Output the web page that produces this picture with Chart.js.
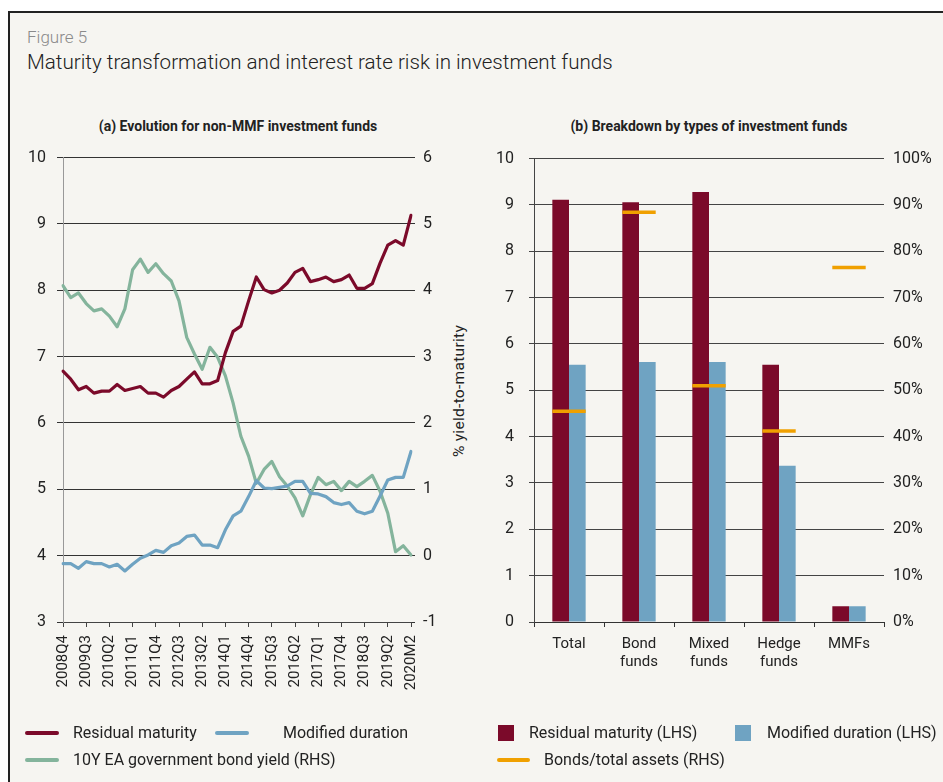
<!DOCTYPE html>
<html>
<head>
<meta charset="utf-8">
<script src="https://cdn.jsdelivr.net/npm/chart.js@4.4.1/dist/chart.umd.min.js"></script>
<style>
  body { margin: 0; width: 943px; height: 782px; overflow: hidden; background: #fff; position: relative; font-family: Roboto, sans-serif; color: #222; }
  #frame { position: absolute; left: 8px; top: 11px; width: 1000px; height: 900px; background: #f6f5f1; border-left: 2px solid #222; border-top: 2px solid #222; }
  .abs { position: absolute; white-space: nowrap; }
  #fig-no { left: 27px; top: 27px; font-size: 17px; color: #8a8a8a; font-weight: 300; }
  #fig-title { left: 27px; top: 50px; font-size: 20.6px; color: #222; font-weight: 300; }
  .sub { top: 118px; font-size: 14px; font-weight: 700; transform: translateX(-50%); }
  #rhs-title { left: 459px; top: 391px; font-size: 15.5px; letter-spacing: 0.3px; transform: translate(-50%, -50%) rotate(-90deg); }
  canvas { position: absolute; }
  .leg { font-size: 16px; line-height: 18px; }
  .sw-line { position: absolute; height: 4px; border-radius: 2px; }
  .sw-box { position: absolute; width: 16px; height: 16px; }
</style>
</head>
<body>
<div id="frame"></div>
<div class="abs" id="fig-no">Figure 5</div>
<div class="abs" id="fig-title">Maturity transformation and interest rate risk in investment funds</div>
<div class="abs sub" style="left:238px">(a) Evolution for non-MMF investment funds</div>
<div class="abs sub" style="left:709px">(b) Breakdown by types of investment funds</div>
<div class="abs" id="rhs-title">% yield-to-maturity</div>

<canvas id="lines" width="471" height="645" style="left:0;top:137px"></canvas>
<canvas id="bars" width="472" height="648" style="left:471px;top:134px"></canvas>

<!-- legends -->
<div class="sw-line" style="left:25px;top:731px;width:34px;background:#7b0a2a"></div>
<div class="abs leg" style="left:73px;top:724px">Residual maturity</div>
<div class="sw-line" style="left:215px;top:731px;width:34px;background:#6fa3c2"></div>
<div class="abs leg" style="left:283px;top:724px">Modified duration</div>
<div class="sw-line" style="left:25px;top:758px;width:34px;background:#84b49c"></div>
<div class="abs leg" style="left:73px;top:751px">10Y EA government bond yield (RHS)</div>

<div class="sw-box" style="left:498px;top:725px;background:#7b0a2a"></div>
<div class="abs leg" style="left:529px;top:724px">Residual maturity (LHS)</div>
<div class="sw-box" style="left:735px;top:725px;background:#6fa3c2"></div>
<div class="abs leg" style="left:767px;top:724px">Modified duration (LHS)</div>
<div class="sw-line" style="left:497px;top:758px;width:33px;background:#f0a000"></div>
<div class="abs leg" style="left:544px;top:751px">Bonds/total assets (RHS)</div>

<script>
// panel (a) - quarterly series, last point is Feb 2020
const periods = ['2008Q4','2009Q1','2009Q2','2009Q3','2009Q4','2010Q1','2010Q2','2010Q3','2010Q4',
  '2011Q1','2011Q2','2011Q3','2011Q4','2012Q1','2012Q2','2012Q3','2012Q4','2013Q1','2013Q2','2013Q3',
  '2013Q4','2014Q1','2014Q2','2014Q3','2014Q4','2015Q1','2015Q2','2015Q3','2015Q4','2016Q1','2016Q2',
  '2016Q3','2016Q4','2017Q1','2017Q2','2017Q3','2017Q4','2018Q1','2018Q2','2018Q3','2018Q4','2019Q1',
  '2019Q2','2019Q3','2019Q4','2020M2'];

const residualMaturity = [6.78, 6.66, 6.50, 6.55, 6.45, 6.48, 6.48, 6.58, 6.49, 6.52,
  6.55, 6.45, 6.45, 6.39, 6.49, 6.55, 6.66, 6.77, 6.59, 6.59,
  6.64, 7.06, 7.38, 7.46, 7.84, 8.20, 8.01, 7.96, 8.00, 8.11,
  8.27, 8.33, 8.13, 8.16, 8.20, 8.13, 8.16, 8.23, 8.03, 8.03,
  8.10, 8.41, 8.68, 8.75, 8.68, 9.13];

const modifiedDuration = [3.88, 3.88, 3.81, 3.91, 3.88, 3.88, 3.83, 3.87, 3.77, 3.87,
  3.96, 4.01, 4.08, 4.05, 4.15, 4.19, 4.29, 4.31, 4.16, 4.16,
  4.12, 4.39, 4.60, 4.67, 4.89, 5.13, 5.02, 5.01, 5.03, 5.05,
  5.12, 5.12, 4.94, 4.93, 4.89, 4.80, 4.77, 4.80, 4.67, 4.63,
  4.67, 4.90, 5.14, 5.18, 5.18, 5.57];

const bondYield10y = [4.07, 3.89, 3.96, 3.80, 3.69, 3.72, 3.61, 3.45, 3.72, 4.31,
  4.47, 4.27, 4.40, 4.25, 4.14, 3.84, 3.29, 3.04, 2.81, 3.14,
  2.99, 2.71, 2.30, 1.80, 1.50, 1.09, 1.30, 1.42, 1.19, 1.05,
  0.87, 0.60, 0.92, 1.18, 1.07, 1.12, 0.98, 1.12, 1.04, 1.12,
  1.21, 0.97, 0.64, 0.06, 0.15, 0.01];

// panel (b)
const fundTypes = ['Total', ['Bond', 'funds'], ['Mixed', 'funds'], ['Hedge', 'funds'], 'MMFs'];
const residualByType = [9.11, 9.06, 9.28, 5.55, 0.34];
const durationByType = [5.55, 5.61, 5.61, 3.37, 0.34];
const bondShareByType = [45.5, 88.4, 51.0, 41.2, 76.5];

const RED = '#7b0a2a', BLUE = '#6fa3c2', GREEN = '#84b49c', ORANGE = '#f0a000';

Chart.defaults.font.family = 'Roboto';
Chart.defaults.color = '#222';
Chart.defaults.animation = false;

const tickFont = { size: 16 };

new Chart(document.getElementById('lines'), {
  type: 'line',
  data: {
    labels: periods,
    datasets: [
      { data: residualMaturity, borderColor: RED, yAxisID: 'y' },
      { data: modifiedDuration, borderColor: BLUE, yAxisID: 'y' },
      { data: bondYield10y, borderColor: GREEN, yAxisID: 'y1' }
    ]
  },
  options: {
    responsive: false,
    layout: { autoPadding: false, padding: { top: 20, left: 0, right: 0, bottom: 0 } },
    elements: {
      line: { borderWidth: 3.2, tension: 0, borderJoinStyle: 'round', borderCapStyle: 'round' },
      point: { radius: 0 }
    },
    plugins: { legend: { display: false }, tooltip: { enabled: false } },
    scales: {
      x: {
        offset: false,
        grid: { drawOnChartArea: false, tickLength: 5, color: '#444' },
        border: { color: '#444' },
        ticks: {
          autoSkip: false, maxRotation: 90, minRotation: 90, padding: 8,
          font: { size: 15 },
          callback: function (v, i) {
            return (i % 3 === 0 || i === periods.length - 1) ? periods[i] : null;
          }
        },
        afterFit: s => { s.height = 160; }
      },
      y: {
        position: 'left', min: 3, max: 10,
        ticks: { stepSize: 1, padding: 11, font: tickFont },
        grid: { color: '#333', tickLength: 6 },
        border: { color: '#999' },
        afterFit: s => { s.width = 63; }
      },
      y1: {
        position: 'right', min: -1, max: 6,
        ticks: { stepSize: 1, padding: 8, font: tickFont },
        grid: { drawOnChartArea: false, color: '#333', tickLength: 4 },
        border: { display: false },
        afterFit: s => { s.width = 60; }
      }
    }
  }
});

new Chart(document.getElementById('bars'), {
  type: 'bar',
  data: {
    labels: fundTypes,
    datasets: [
      { data: residualByType, backgroundColor: RED, yAxisID: 'y', order: 1, categoryPercentage: 0.476, barPercentage: 1 },
      { data: durationByType, backgroundColor: BLUE, yAxisID: 'y', order: 1, categoryPercentage: 0.476, barPercentage: 1 },
      {
        type: 'line', data: bondShareByType, yAxisID: 'y1', order: 0, showLine: false,
        pointStyle: 'line', pointRadius: 16.7, pointBorderWidth: 3.5,
        borderColor: ORANGE, backgroundColor: ORANGE
      }
    ]
  },
  options: {
    responsive: false,
    layout: { autoPadding: false, padding: { top: 20, left: 0, right: 0, bottom: 0 } },
    plugins: { legend: { display: false }, tooltip: { enabled: false } },
    scales: {
      x: {
        grid: { drawOnChartArea: false, tickLength: 5, color: '#333' },
        border: { color: '#333' },
        ticks: { padding: 8, font: { size: 15 }, color: '#222' },
        afterFit: s => { s.height = 160; }
      },
      y: {
        position: 'left', min: 0, max: 10,
        ticks: { stepSize: 1, padding: 15, font: tickFont },
        grid: { color: '#444', tickLength: 5 },
        border: { color: '#444' },
        afterFit: s => { s.width = 63; }
      },
      y1: {
        position: 'right', min: 0, max: 100,
        ticks: { stepSize: 10, padding: 9, font: tickFont, callback: v => v + '%' },
        grid: { display: false, drawTicks: false },
        border: { display: false },
        afterFit: s => { s.width = 59; }
      }
    }
  }
});
</script>
</body>
</html>
